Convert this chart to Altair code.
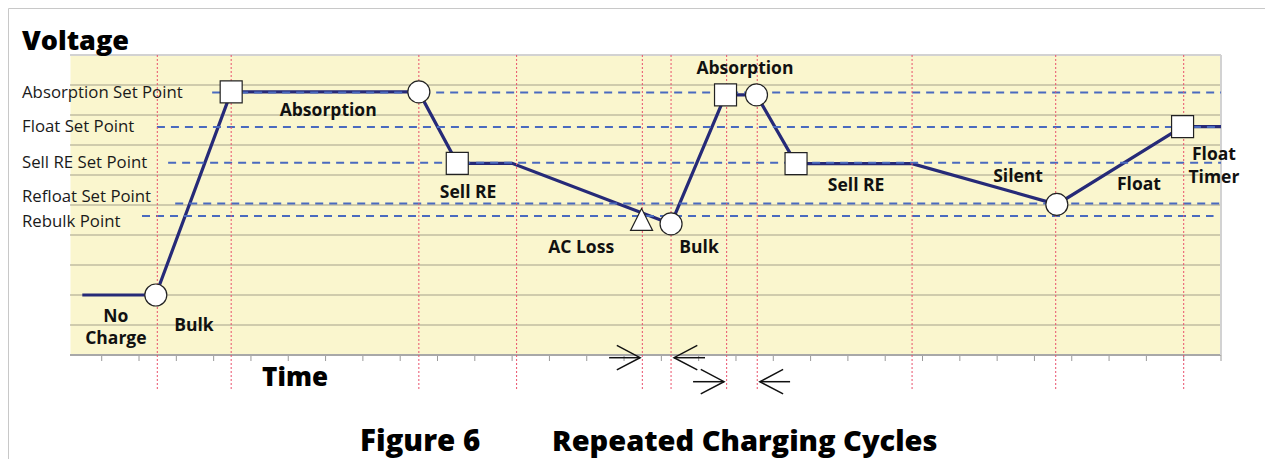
import altair as alt
import pandas as pd

# ---- data ----
path_x = [-0.52, 1.45, 3.47, 8.5, 9.53, 11.0, 15.26, 16.72, 17.55, 18.61, 21.72, 25.6, 28.97, 30.0]
path_y = [2.0, 2.0, 8.77, 8.77, 6.39, 6.39, 4.37, 8.67, 8.67, 6.38, 6.38, 5.02, 7.61, 7.61]

marker_x = [1.45, 3.47, 8.5, 9.53, 14.47, 15.26, 16.72, 17.55, 18.61, 25.6, 28.97]
marker_y = [2.0, 8.77, 8.77, 6.39, 4.47, 4.37, 8.67, 8.67, 6.38, 5.02, 7.61]
marker_kind = ["circle", "square", "circle", "square", "triangle", "circle",
               "square", "circle", "square", "circle", "square"]

setpoint_names = ["Absorption Set Point", "Float Set Point", "Sell RE Set Point",
                  "Refloat Set Point", "Rebulk Point"]
setpoint_values = [8.75, 7.6, 6.41, 5.05, 4.63]
setpoint_start = [2.96, 1.48, 1.78, 1.97, 1.08]
setpoint_end = [30.0, 30.0, 30.0, 30.0, 29.8]

event_x = [1.49, 3.47, 8.5, 11.12, 14.49, 15.26, 16.75, 17.57, 21.72, 25.57, 29.0]

state_labels = ["Absorption", "Sell RE", "AC Loss", "Bulk", "Absorption", "Sell RE",
                "Silent", "Float", "Float", "Timer", "No", "Charge", "Bulk"]
state_x = [6.07, 9.82, 12.85, 16.01, 17.24, 20.22, 24.56, 27.8, 29.81, 29.81, 0.38, 0.38, 2.47]
state_y = [8.13, 5.41, 3.57, 3.57, 9.53, 5.63, 5.94, 5.67, 6.67, 5.9, 1.28, 0.53, 0.97]

arrow_tail = [13.6, 16.17, 15.85, 18.45]
arrow_tip = [14.43, 15.34, 16.68, 17.64]
arrow_row = [-0.09, -0.09, -0.89, -0.89]
arrow_dir = ["right", "left", "right", "left"]

x_ticks = list(range(0, 31))
y_grid = list(range(1, 10))

# ---- tables ----
shape_paths = {
    "circle": "circle",
    "square": "square",
    "triangle": "M0,-1.12L-1.0,0.86L1.0,0.86Z",
}
head_paths = {"right": "M-1.9,-1L0,0L-1.9,1", "left": "M1.9,-1L0,0L1.9,1"}

path_df = pd.DataFrame({"t": path_x, "v": path_y, "o": list(range(len(path_x)))})
marker_df = pd.DataFrame({"t": marker_x, "v": marker_y,
                          "shape": [shape_paths[k] for k in marker_kind]})
sp_df = pd.DataFrame({"name": setpoint_names, "v": setpoint_values,
                      "t0": setpoint_start, "t1": setpoint_end})
label_nudge = [0, 0, 0, 0.22, -0.19]
sp_lab_df = pd.DataFrame({"name": setpoint_names,
                          "v": [a + b for a, b in zip(setpoint_values, label_nudge)]})
ev_df = pd.DataFrame({"t": event_x})
st_df = pd.DataFrame({"label": state_labels, "t": state_x, "v": state_y})
ar_df = pd.DataFrame({"tail": arrow_tail, "tip": arrow_tip, "v": arrow_row,
                      "head": [head_paths[d] for d in arrow_dir]})
xt_df = pd.DataFrame({"t": x_ticks})
yg_df = pd.DataFrame({"v": y_grid})

W, H = 1151, 300
FONT = "Open Sans"
xs = alt.Scale(domain=[-0.85, 30], nice=False, zero=False)
ys = alt.Scale(domain=[0, 10], nice=False, zero=False)
X = lambda f: alt.X(f, type="quantitative", scale=xs, axis=None)
Y = lambda f: alt.Y(f, type="quantitative", scale=ys, axis=None)

grid = alt.Chart(yg_df).mark_rule(color="#a3a08a", strokeWidth=1.2).encode(
    y=Y("v"), x=alt.value(0), x2=alt.value(W))

ticks = alt.Chart(xt_df).mark_rule(color="#9a9a9a", strokeWidth=1).encode(
    x=X("t"), y=alt.value(H), y2=alt.value(H + 6))

frame = [
    alt.Chart().mark_rule(color="#a8a8a8", strokeWidth=2).encode(
        x=alt.value(0), x2=alt.value(W), y=alt.value(H)),
    alt.Chart().mark_rule(color="#d2d2d2", strokeWidth=2).encode(
        x=alt.value(0), x2=alt.value(W), y=alt.value(0)),
    alt.Chart().mark_rule(color="#d2d2d2", strokeWidth=2).encode(
        x=alt.value(W), y=alt.value(0), y2=alt.value(H)),
    alt.Chart().mark_rule(color="#c8c8c8", strokeWidth=1).encode(
        x=alt.value(-61.5), x2=alt.value(W + 44), y=alt.value(-46.5)),
    alt.Chart().mark_rule(color="#c8c8c8", strokeWidth=1).encode(
        x=alt.value(-61.5), y=alt.value(-46.5), y2=alt.value(H + 110)),
]

line = alt.Chart(path_df).mark_line(color="#262A78", strokeWidth=3.2).encode(
    x=X("t"), y=Y("v"), order="o:Q")

setpoints = alt.Chart(sp_df).mark_rule(color="#4A6ABF", strokeWidth=2, strokeDash=[8, 6]).encode(
    x=X("t0"), x2="t1:Q", y=Y("v"))

events = alt.Chart(ev_df).mark_rule(color="#E9506B", strokeWidth=1, strokeDash=[2, 2]).encode(
    x=X("t"), y=alt.value(0), y2=alt.value(335))

markers = alt.Chart(marker_df).mark_point(filled=True, fill="white", stroke="#222222",
                                           strokeWidth=1.2, size=484, opacity=1).encode(
    x=X("t"), y=Y("v"), shape=alt.Shape("shape:N", scale=None, legend=None))

sp_labels = alt.Chart(sp_lab_df).mark_text(align="left", baseline="middle", font=FONT,
                                           fontSize=16.8, color="#1a1a1a").encode(
    x=alt.value(-48), y=Y("v"), text="name:N")

states = alt.Chart(st_df).mark_text(font=FONT, fontSize=17.5, fontWeight="bold",
                                     color="#111111", baseline="middle").encode(
    x=X("t"), y=Y("v"), text="label:N")

shafts = alt.Chart(ar_df).mark_rule(color="#111111", strokeWidth=1.5).encode(
    x=X("tail"), x2="tip:Q", y=Y("v"))

heads = alt.Chart(ar_df).mark_point(filled=False, stroke="#111111", strokeWidth=1.5,
                                     size=600, opacity=1).encode(
    x=X("tip"), y=Y("v"), shape=alt.Shape("head:N", scale=None, legend=None))

def title_text(s, x, y, size, align="left", baseline="middle"):
    return alt.Chart().mark_text(text=s, align=align, baseline=baseline, font=FONT,
                                 fontSize=size, fontWeight=800, color="#000000").encode(
        x=alt.value(x), y=alt.value(y))

texts = [
    title_text("Voltage", -48, -5, 27, baseline="alphabetic"),
    title_text("Time", 225, 323, 26, align="center"),
    title_text("Figure 6", 290, 396, 29.5, baseline="alphabetic"),
    title_text("Repeated Charging Cycles", 482, 396, 29, baseline="alphabetic"),
]

chart = alt.layer(
    grid, ticks, *frame, line, setpoints, events, markers, sp_labels, states,
    shafts, heads, *texts
).properties(
    width=W, height=H,
    autosize=alt.AutoSizeParams(type="none"),
    padding={"left": 62, "top": 47, "right": 44, "bottom": 104},
    background="white",
).configure_view(fill="#FAF6CE", stroke="transparent")

chart.save("out.html", embed_options={"renderer": "svg", "actions": False})
